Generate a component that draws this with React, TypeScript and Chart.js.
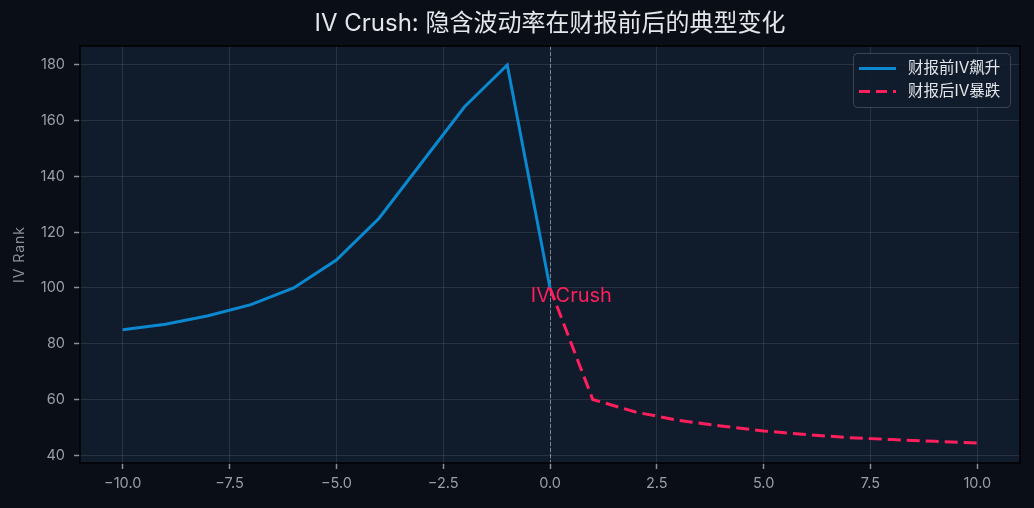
import { useEffect, useRef } from 'react';
import { Chart, registerables } from 'chart.js';

Chart.register(...registerables);

const TITLE = 'IV Crush: 隐含波动率在财报前后的典型变化';
const Y_LABEL = 'IV Rank';
const PRE_LABEL = '财报前IV飙升';
const POST_LABEL = '财报后IV暴跌';
const NOTE = 'IV Crush';

// 财报前 (天数 -> IV Rank)
const preDays = [-10, -9, -8, -7, -6, -5, -4, -3, -2, -1, 0];
const preIV = [85, 87, 90, 94, 100, 110, 125, 145, 165, 180, 100];

// 财报后
const postDays = [0, 1, 2, 3, 4, 5, 6, 7, 8, 9, 10];
const postIV = [100, 60, 55.5, 52.5, 50.5, 48.7, 47.4, 46.3, 45.6, 45.0, 44.4];

const xTicks = [-10, -7.5, -5, -2.5, 0, 2.5, 5, 7.5, 10];
const yTicks = [40, 60, 80, 100, 120, 140, 160, 180];

const BLUE = '#0a88d0';
const RED = '#ff1f5c';
const FONT = "Inter, 'Noto Sans CJK SC', sans-serif";

const fmtX = (v: number) => (v < 0 ? '\u2212' : '') + Math.abs(v).toFixed(1);

const decor = {
  id: 'decor',
  beforeDraw(chart: any) {
    const { ctx, chartArea: a, width, height } = chart;
    ctx.save();
    ctx.fillStyle = '#0a0e16';
    ctx.fillRect(0, 0, width, height);
    ctx.fillStyle = '#101b2b';
    ctx.fillRect(a.left, a.top, a.right - a.left, a.bottom - a.top);
    ctx.fillStyle = '#e4e6ea';
    ctx.font = `24px ${FONT}`;
    ctx.textAlign = 'center';
    ctx.textBaseline = 'middle';
    ctx.fillText(TITLE, (a.left + a.right) / 2, 24);

    // y 轴标题
    ctx.translate(20, (a.top + a.bottom) / 2);
    ctx.rotate(-Math.PI / 2);
    ctx.fillStyle = '#8a8f98';
    ctx.font = `14px ${FONT}`;
    (ctx as any).letterSpacing = '1px';
    ctx.fillText(Y_LABEL, 0, 0);
    ctx.restore();
  },
  beforeDatasetsDraw(chart: any) {
    const { ctx, chartArea: a, scales } = chart;
    const x0 = Math.round(scales.x.getPixelForValue(0)) + 0.5;
    ctx.save();
    ctx.strokeStyle = 'rgba(200,200,200,0.55)';
    ctx.lineWidth = 1;
    ctx.setLineDash([4, 2]);
    ctx.beginPath();
    ctx.moveTo(x0, a.top);
    ctx.lineTo(x0, a.bottom);
    ctx.stroke();
    ctx.restore();
  },
  afterDatasetsDraw(chart: any) {
    const { ctx, chartArea: a, scales } = chart;
    ctx.save();
    // 注释文字
    ctx.fillStyle = RED;
    ctx.font = `20px ${FONT}`;
    ctx.textAlign = 'center';
    ctx.textBaseline = 'alphabetic';
    ctx.fillText(NOTE, scales.x.getPixelForValue(0.5), scales.y.getPixelForValue(95));

    // 边框
    ctx.strokeStyle = '#000';
    ctx.lineWidth = 1.5;
    ctx.strokeRect(a.left, a.top, a.right - a.left, a.bottom - a.top);

    // 图例
    const lx = 853.5, ly = 53.5, lw = 157, lh = 54;
    ctx.beginPath();
    ctx.roundRect(lx, ly, lw, lh, 4);
    ctx.fillStyle = 'rgba(16,27,43,0.85)';
    ctx.fill();
    ctx.strokeStyle = 'rgba(255,255,255,0.18)';
    ctx.lineWidth = 1;
    ctx.stroke();

    const rows = [
      { label: PRE_LABEL, color: BLUE, dash: [] as number[], y: 68.5 },
      { label: POST_LABEL, color: RED, dash: [11, 6], y: 91.5 },
    ];
    ctx.font = `15.5px ${FONT}`;
    ctx.textAlign = 'left';
    ctx.textBaseline = 'middle';
    rows.forEach((r) => {
      ctx.strokeStyle = r.color;
      ctx.lineWidth = 3;
      ctx.setLineDash(r.dash);
      ctx.beginPath();
      ctx.moveTo(859, r.y);
      ctx.lineTo(896, r.y);
      ctx.stroke();
      ctx.setLineDash([]);
      ctx.fillStyle = '#e4e6ea';
      ctx.fillText(r.label, 908, r.y);
    });
    ctx.restore();
  },
};

const App = () => {
  const canvasRef = useRef<HTMLCanvasElement>(null);
  const chartRef = useRef<Chart | null>(null);

  useEffect(() => {
    document.body.style.margin = '0';
    document.body.style.background = '#0a0e16';
    if (!canvasRef.current) return;

    const tickFont = { family: FONT, size: 14.5 };

    chartRef.current = new Chart(canvasRef.current, {
      type: 'line',
      data: {
        datasets: [
          {
            label: PRE_LABEL,
            data: preDays.map((d, i) => ({ x: d, y: preIV[i] })),
            borderColor: BLUE,
            borderWidth: 3,
            pointRadius: 0,
            tension: 0,
            fill: false,
          },
          {
            label: POST_LABEL,
            data: postDays.map((d, i) => ({ x: d, y: postIV[i] })),
            borderColor: RED,
            borderWidth: 3,
            borderDash: [13, 6],
            pointRadius: 0,
            tension: 0,
            fill: false,
          },
        ],
      },
      options: {
        responsive: false,
        animation: false,
        layout: { padding: { top: 46, right: 14, bottom: 0, left: 0 } },
        plugins: {
          legend: { display: false },
          tooltip: { enabled: false },
          title: { display: false },
        },
        scales: {
          x: {
            type: 'linear',
            min: -11,
            max: 11,
            afterBuildTicks: (s: any) => {
              s.ticks = xTicks.map((v) => ({ value: v }));
            },
            afterFit: (s: any) => {
              s.height = 45;
            },
            ticks: {
              color: '#9a9ea6',
              font: tickFont,
              padding: 6,
              maxRotation: 0,
              autoSkip: false,
              callback: (v: any) => fmtX(Number(v)),
            },
            grid: {
              color: 'rgba(255,255,255,0.1)',
              lineWidth: 1,
              tickLength: 6,
              tickColor: '#8a8f98',
              tickWidth: 1.5,
            },
            border: { display: false },
          },
          y: {
            type: 'linear',
            min: 37.2,
            max: 186.8,
            afterBuildTicks: (s: any) => {
              s.ticks = yTicks.map((v) => ({ value: v }));
            },
            afterFit: (s: any) => {
              s.width = 80;
            },
            ticks: {
              color: '#9a9ea6',
              font: tickFont,
              padding: 9,
              autoSkip: false,
              callback: (v: any) => String(v),
            },
            grid: {
              color: 'rgba(255,255,255,0.1)',
              lineWidth: 1,
              tickLength: 6,
              tickColor: '#8a8f98',
              tickWidth: 1.5,
            },
            border: { display: false },
          },
        },
      },
      plugins: [decor],
    });

    return () => {
      chartRef.current?.destroy();
      chartRef.current = null;
    };
  }, []);

  return (
    <div style={{ width: 1034, height: 508 }}>
      <canvas ref={canvasRef} width={1034} height={508} style={{ display: 'block' }} />
    </div>
  );
};

export default App;
